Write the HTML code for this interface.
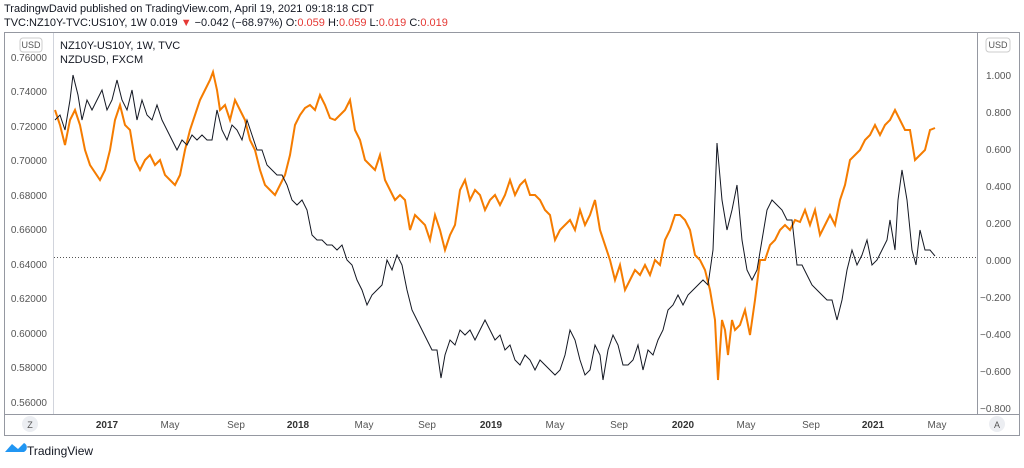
<!DOCTYPE html>
<html><head><meta charset="utf-8"><style>
body{margin:0;background:#fff;width:1024px;height:463px;overflow:hidden;font-family:"Liberation Sans",sans-serif}
</style></head><body>
<svg width="1024" height="463" xmlns="http://www.w3.org/2000/svg" font-family="Liberation Sans, sans-serif">
<text x="4" y="12" font-size="11" fill="#131722">TradingwDavid published on TradingView.com, April 19, 2021 09:18:18 CDT</text>
<text x="4" y="26" font-size="11" fill="#131722">TVC:NZ10Y-TVC:US10Y, 1W  0.019 <tspan fill="#e53935">▼</tspan> −0.042 (−68.97%) O:<tspan fill="#e53935">0.059</tspan> H:<tspan fill="#e53935">0.059</tspan> L:<tspan fill="#e53935">0.019</tspan> C:<tspan fill="#e53935">0.019</tspan></text>
<rect x="4.5" y="32.5" width="1015" height="403" fill="none" stroke="#9598a1"/>
<line x1="53.5" y1="33" x2="53.5" y2="414" stroke="#d1d4dc"/>
<line x1="977.5" y1="33" x2="977.5" y2="414" stroke="#9598a1"/>
<line x1="4" y1="414.5" x2="1020" y2="414.5" stroke="#9598a1"/>
<g font-size="10" fill="#555">
<rect x="20" y="38" width="22" height="14" rx="3" fill="#fff" stroke="#ccc"/><text x="31" y="48" text-anchor="middle" font-size="9">USD</text>
<text x="47" y="61" text-anchor="end">0.76000</text><text x="47" y="95" text-anchor="end">0.74000</text><text x="47" y="130" text-anchor="end">0.72000</text><text x="47" y="164" text-anchor="end">0.70000</text><text x="47" y="199" text-anchor="end">0.68000</text><text x="47" y="233" text-anchor="end">0.66000</text><text x="47" y="268" text-anchor="end">0.64000</text><text x="47" y="302" text-anchor="end">0.62000</text><text x="47" y="337" text-anchor="end">0.60000</text><text x="47" y="371" text-anchor="end">0.58000</text><text x="47" y="406" text-anchor="end">0.56000</text>
<rect x="986" y="38" width="24" height="14" rx="3" fill="#fff" stroke="#ccc"/><text x="998" y="48" text-anchor="middle" font-size="9">USD</text>
<text x="986" y="79">1.000</text><text x="986" y="116">0.800</text><text x="986" y="153">0.600</text><text x="986" y="190">0.400</text><text x="986" y="227">0.200</text><text x="986" y="264">0.000</text><text x="980" y="301">−0.200</text><text x="980" y="338">−0.400</text><text x="980" y="375">−0.600</text><text x="980" y="412">−0.800</text>
<text x="107" y="428" text-anchor="middle" font-weight="bold" fill="#333">2017</text><text x="170" y="428" text-anchor="middle">May</text><text x="236" y="428" text-anchor="middle">Sep</text>
<text x="298" y="428" text-anchor="middle" font-weight="bold" fill="#333">2018</text><text x="364" y="428" text-anchor="middle">May</text><text x="427" y="428" text-anchor="middle">Sep</text>
<text x="491" y="428" text-anchor="middle" font-weight="bold" fill="#333">2019</text><text x="555" y="428" text-anchor="middle">May</text><text x="619" y="428" text-anchor="middle">Sep</text>
<text x="683" y="428" text-anchor="middle" font-weight="bold" fill="#333">2020</text><text x="746" y="428" text-anchor="middle">May</text><text x="811" y="428" text-anchor="middle">Sep</text>
<text x="873" y="428" text-anchor="middle" font-weight="bold" fill="#333">2021</text><text x="937" y="428" text-anchor="middle">May</text>
<circle cx="30" cy="424" r="8" fill="#eceef2"/><text x="30" y="428" text-anchor="middle" font-size="9">Z</text>
<circle cx="997" cy="424" r="8" fill="#eceef2"/><text x="997" y="428" text-anchor="middle" font-size="9">A</text>
</g>
<text x="60" y="49" font-size="11" fill="#131722">NZ10Y-US10Y, 1W, TVC</text>
<text x="60" y="63" font-size="11" fill="#131722">NZDUSD, FXCM</text>
<line x1="54" y1="257.5" x2="977" y2="257.5" stroke="#555" stroke-dasharray="1,2"/>
<polyline fill="none" stroke="#f57c00" stroke-width="2" points="55,110 60,125 65,145 70,120 75,110 80,125 85,150 90,165 100,180 105,170 110,150 115,120 120,105 125,125 130,130 135,160 140,170 145,160 150,155 155,165 160,160 165,175 170,180 175,185 180,175 185,150 190,130 195,115 200,100 205,90 210,80 213,72 217,90 220,110 225,105 230,120 235,100 240,110 245,120 250,140 255,150 260,170 265,185 270,190 275,195 280,185 285,175 290,155 295,125 300,115 305,108 310,105 315,110 320,95 325,105 330,118 335,120 340,115 345,110 350,100 355,130 360,140 365,160 370,165 375,170 380,155 385,180 390,190 395,200 400,195 405,200 410,230 415,215 420,220 425,225 430,240 435,215 440,230 445,250 450,235 455,225 460,190 465,180 470,200 475,190 480,195 485,210 490,200 495,195 500,205 505,195 510,180 515,195 520,185 525,180 530,195 535,195 540,200 545,210 550,215 555,240 560,230 565,225 570,220 575,230 580,210 585,225 590,215 595,200 600,230 605,245 610,260 615,280 620,265 625,290 630,280 635,270 640,275 645,265 650,275 655,260 660,265 665,240 670,230 675,215 680,215 685,220 690,230 695,255 700,260 705,270 710,290 715,320 718,380 722,320 725,330 728,355 732,320 735,330 740,325 745,310 750,335 755,300 760,260 765,260 770,245 775,240 780,230 785,225 790,230 795,220 800,222 805,210 810,225 815,210 820,235 825,225 830,215 835,225 840,200 845,185 850,160 855,155 860,150 865,140 870,135 875,125 880,135 885,125 890,120 895,110 900,120 905,130 910,130 915,160 920,155 925,150 930,130 935,128"/>
<polyline fill="none" stroke="#131722" stroke-width="1" points="55,120 60,115 65,130 70,100 73,75 78,95 82,120 87,100 92,110 97,100 102,90 107,110 112,100 117,80 122,100 127,110 132,90 137,120 142,100 147,115 152,120 157,105 162,120 167,130 172,140 177,150 182,140 187,145 192,135 197,140 202,135 207,140 212,140 217,110 222,130 227,140 232,125 237,130 242,140 247,120 252,135 257,150 262,150 267,165 272,170 277,175 282,175 287,185 292,200 297,205 302,200 307,210 312,235 317,240 322,240 327,245 332,245 337,250 342,245 347,260 352,265 357,280 362,290 367,305 372,295 377,290 382,285 387,260 392,270 397,255 402,265 407,290 412,310 417,320 422,330 427,340 432,350 437,350 441,378 445,355 450,340 455,345 460,330 465,335 470,330 475,340 480,330 485,320 490,330 495,340 500,335 505,350 510,345 515,360 520,365 525,355 530,360 535,370 540,360 545,365 550,370 555,375 560,370 565,355 570,330 575,340 580,360 585,375 590,370 595,345 600,355 603,380 608,350 613,335 618,345 623,365 628,365 633,360 638,345 643,370 648,350 653,355 658,340 663,330 668,310 673,305 678,295 683,305 688,295 693,290 698,285 703,280 708,285 713,250 717,143 722,200 727,230 732,210 737,185 742,240 747,270 752,280 757,270 762,240 767,210 772,200 777,205 782,210 787,220 792,220 797,265 802,265 807,275 812,285 817,290 822,295 827,300 832,300 837,320 842,300 847,270 852,250 857,265 862,255 867,240 872,265 877,260 882,250 887,240 890,220 895,250 898,200 902,170 907,200 912,250 916,265 920,230 925,250 930,250 935,256"/>
<path d="M5,452 l7,-8 l6,5 l6,-6 a5,5 0 0 1 0,9 z" fill="#2196f3"/>
<text x="27" y="455" font-size="12" fill="#131722">TradingView</text>
</svg>
</body></html>
